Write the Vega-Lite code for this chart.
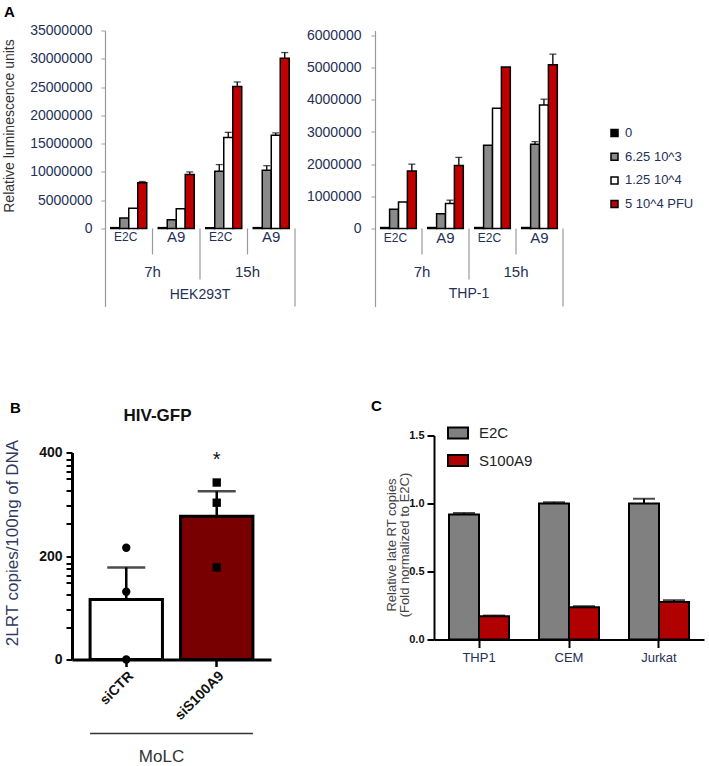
{
  "$schema": "https://vega.github.io/schema/vega-lite/v6.json",
  "padding": {"left": 1, "top": 4.5, "right": 5, "bottom": 0},
  "config": {"view": {"stroke": null}, "font": "Liberation Sans", "axis": {"grid": false}},
  "bounds": "flush",
  "spacing": 405,
  "resolve": {"scale": {"x": "independent", "y": "independent", "fill": "independent", "shape": "independent", "xOffset": "independent"}, "legend": {"fill": "independent", "shape": "independent"}},
  "vconcat": [
    {
      "bounds": "flush",
      "spacing": 32,
      "resolve": {"scale": {"x": "independent", "y": "independent", "fill": "independent", "shape": "independent", "xOffset": "independent"}, "legend": {"fill": "independent", "shape": "independent"}},
      "hconcat": [
        {"width": 1, "height": 1, "data": {"values": []}, "mark": "point", "encoding": {}},
        {
          "bounds": "flush",
          "spacing": 80,
          "resolve": {"scale": {"x": "independent", "y": "independent", "fill": "independent", "shape": "independent", "xOffset": "independent"}, "legend": {"fill": "independent", "shape": "independent"}},
          "hconcat": [
            {
              "width": 190,
              "height": 276,
              "title": {"text": "A", "anchor": "start", "frame": "group", "dx": -101, "offset": -8, "baseline": "alphabetic", "fontSize": 15, "fontWeight": "bold", "color": "#000"},
              "data": {"values": [
                {"grp": "7h E2C", "dose": "0", "v": 150000},
                {"grp": "7h E2C", "dose": "6.25 10^3", "v": 1850000},
                {"grp": "7h E2C", "dose": "1.25 10^4", "v": 3600000},
                {"grp": "7h E2C", "dose": "5 10^4 PFU", "v": 8100000, "hi": 8300000},
                {"grp": "7h A9", "dose": "0", "v": 150000},
                {"grp": "7h A9", "dose": "6.25 10^3", "v": 1550000},
                {"grp": "7h A9", "dose": "1.25 10^4", "v": 3500000},
                {"grp": "7h A9", "dose": "5 10^4 PFU", "v": 9550000, "hi": 10000000},
                {"grp": "15h E2C", "dose": "0", "v": 150000},
                {"grp": "15h E2C", "dose": "6.25 10^3", "v": 10100000, "hi": 11300000},
                {"grp": "15h E2C", "dose": "1.25 10^4", "v": 16100000, "hi": 17000000},
                {"grp": "15h E2C", "dose": "5 10^4 PFU", "v": 25100000, "hi": 25900000},
                {"grp": "15h A9", "dose": "0", "v": 150000},
                {"grp": "15h A9", "dose": "6.25 10^3", "v": 10300000, "hi": 11100000},
                {"grp": "15h A9", "dose": "1.25 10^4", "v": 16500000, "hi": 16900000},
                {"grp": "15h A9", "dose": "5 10^4 PFU", "v": 30100000, "hi": 31100000}
              ]},
              "encoding": {
                "x": {"field": "grp", "type": "nominal", "scale": {"domain": ["7h E2C", "7h A9", "15h E2C", "15h A9"], "paddingInner": 0, "paddingOuter": 0}, "axis": null},
                "y": {"field": "v", "type": "quantitative", "scale": {"domain": [-13787879, 35000000], "nice": false, "zero": false},
                  "axis": {"values": [0, 5000000, 10000000, 15000000, 20000000, 25000000, 30000000, 35000000], "format": "d", "domainColor": "#999", "domainWidth": 1.2, "tickColor": "#999", "tickSize": 4, "labelFontSize": 14, "labelColor": "#243055", "labelPadding": 9, "title": "Relative luminescence units", "titleFontSize": 14, "titleFontWeight": "normal", "titleColor": "#333", "titleX": -96, "titleY": 95, "titleBaseline": "middle"}}
              },
              "layer": [
                {"data": {"values": [{"grp": "7h E2C"}, {"grp": "7h A9"}, {"grp": "15h E2C"}, {"grp": "15h A9"}]},
                 "mark": {"type": "tick", "color": "#999", "thickness": 1.2, "size": 47.5},
                 "encoding": {"y": {"datum": 0}}},
                {"mark": {"type": "bar", "stroke": "#000", "strokeWidth": 1.5},
                 "encoding": {
                   "xOffset": {"field": "dose", "type": "nominal", "scale": {"domain": ["0", "6.25 10^3", "1.25 10^4", "5 10^4 PFU"], "paddingInner": 0, "paddingOuter": 0.64}},
                   "y2": {"datum": 0},
                   "fill": {"field": "dose", "type": "nominal", "scale": {"domain": ["0", "6.25 10^3", "1.25 10^4", "5 10^4 PFU"], "range": ["#000000", "#8a8a8a", "#ffffff", "#c00000"]}, "legend": null}
                 }},
                {"transform": [{"filter": "isValid(datum.hi)"}],
                 "mark": {"type": "rule", "color": "#000", "strokeWidth": 1.3},
                 "encoding": {"xOffset": {"field": "dose", "type": "nominal"}, "y2": {"field": "hi"}}},
                {"transform": [{"filter": "isValid(datum.hi)"}],
                 "mark": {"type": "tick", "color": "#000", "thickness": 1.3, "size": 7},
                 "encoding": {"xOffset": {"field": "dose", "type": "nominal"}, "y": {"field": "hi", "type": "quantitative"}}},
                {"data": {"values": [{"grp": "7h A9", "lv": -4596000}, {"grp": "15h A9", "lv": -4596000}, {"grp": "15h E2C", "lv": -9015000}]},
                 "mark": {"type": "rule", "color": "#999", "strokeWidth": 1.2},
                 "encoding": {"x": {"field": "grp", "type": "nominal", "bandPosition": 0}, "y": {"field": "lv", "type": "quantitative"}, "y2": {"datum": 0}}},
                {"data": {"values": [{"grp": "15h A9", "lv": -13787879}]},
                 "mark": {"type": "rule", "color": "#999", "strokeWidth": 1.2},
                 "encoding": {"x": {"field": "grp", "type": "nominal", "bandPosition": 1}, "y": {"field": "lv", "type": "quantitative"}, "y2": {"datum": 0}}},
                {"data": {"values": [{"grp": "7h E2C", "t": "E2C", "lv": -1590000}, {"grp": "15h E2C", "t": "E2C", "lv": -1590000}]},
                 "mark": {"type": "text", "baseline": "middle", "align": "center", "color": "#243055", "fontSize": 12, "dx": -3},
                 "encoding": {"x": {"field": "grp", "type": "nominal"}, "text": {"field": "t"}, "y": {"field": "lv", "type": "quantitative"}}},
                {"data": {"values": [{"grp": "7h A9", "t": "A9", "lv": -1590000}, {"grp": "15h A9", "t": "A9", "lv": -1590000}]},
                 "mark": {"type": "text", "baseline": "middle", "align": "center", "color": "#243055", "fontSize": 15},
                 "encoding": {"x": {"field": "grp", "type": "nominal"}, "text": {"field": "t"}, "y": {"field": "lv", "type": "quantitative"}}},
                {"data": {"values": [{"grp": "7h A9", "t": "7h", "lv": -7690000}, {"grp": "15h A9", "t": "15h", "lv": -7690000}]},
                 "mark": {"type": "text", "baseline": "middle", "align": "center", "color": "#243055", "fontSize": 15},
                 "encoding": {"x": {"field": "grp", "type": "nominal", "bandPosition": 0}, "text": {"field": "t"}, "y": {"field": "lv", "type": "quantitative"}}},
                {"data": {"values": [{"grp": "15h E2C", "t": "HEK293T", "lv": -11840000}]},
                 "mark": {"type": "text", "baseline": "middle", "align": "center", "color": "#243055", "fontSize": 14},
                 "encoding": {"x": {"field": "grp", "type": "nominal", "bandPosition": 0}, "text": {"field": "t"}, "y": {"field": "lv", "type": "quantitative"}}}
              ]
            },
            {
              "width": 188,
              "height": 276,
              "data": {"values": [
                {"grp": "7h E2C", "dose": "0", "v": 30000},
                {"grp": "7h E2C", "dose": "6.25 10^3", "v": 600000},
                {"grp": "7h E2C", "dose": "1.25 10^4", "v": 820000},
                {"grp": "7h E2C", "dose": "5 10^4 PFU", "v": 1790000, "hi": 2000000},
                {"grp": "7h A9", "dose": "0", "v": 30000},
                {"grp": "7h A9", "dose": "6.25 10^3", "v": 460000},
                {"grp": "7h A9", "dose": "1.25 10^4", "v": 780000, "hi": 880000},
                {"grp": "7h A9", "dose": "5 10^4 PFU", "v": 1960000, "hi": 2210000},
                {"grp": "15h E2C", "dose": "0", "v": 30000},
                {"grp": "15h E2C", "dose": "6.25 10^3", "v": 2590000},
                {"grp": "15h E2C", "dose": "1.25 10^4", "v": 3740000},
                {"grp": "15h E2C", "dose": "5 10^4 PFU", "v": 5020000},
                {"grp": "15h A9", "dose": "0", "v": 30000},
                {"grp": "15h A9", "dose": "6.25 10^3", "v": 2620000, "hi": 2700000},
                {"grp": "15h A9", "dose": "1.25 10^4", "v": 3840000, "hi": 4020000},
                {"grp": "15h A9", "dose": "5 10^4 PFU", "v": 5090000, "hi": 5420000}
              ]},
              "encoding": {
                "x": {"field": "grp", "type": "nominal", "scale": {"domain": ["7h E2C", "7h A9", "15h E2C", "15h A9"], "paddingInner": 0, "paddingOuter": 0}, "axis": null},
                "y": {"field": "v", "type": "quantitative", "scale": {"domain": [-2424870, 6155440], "nice": false, "zero": false},
                  "axis": {"values": [0, 1000000, 2000000, 3000000, 4000000, 5000000, 6000000], "format": "d", "domainColor": "#999", "domainWidth": 1.2, "tickColor": "#999", "tickSize": 4, "labelFontSize": 14, "labelColor": "#243055", "labelPadding": 10, "title": null}}
              },
              "layer": [
                {"data": {"values": [{"grp": "7h E2C"}, {"grp": "7h A9"}, {"grp": "15h E2C"}, {"grp": "15h A9"}]},
                 "mark": {"type": "tick", "color": "#999", "thickness": 1.2, "size": 47},
                 "encoding": {"y": {"datum": 0}}},
                {"mark": {"type": "bar", "stroke": "#000", "strokeWidth": 1.5},
                 "encoding": {
                   "xOffset": {"field": "dose", "type": "nominal", "scale": {"domain": ["0", "6.25 10^3", "1.25 10^4", "5 10^4 PFU"], "paddingInner": 0, "paddingOuter": 0.64}},
                   "y2": {"datum": 0},
                   "fill": {"field": "dose", "type": "nominal", "scale": {"domain": ["0", "6.25 10^3", "1.25 10^4", "5 10^4 PFU"], "range": ["#000000", "#8a8a8a", "#ffffff", "#c00000"]},
                     "legend": {"orient": "none", "legendX": 233, "legendY": 96, "title": null, "symbolType": "square", "symbolSize": 49, "symbolStrokeColor": "#000", "symbolStrokeWidth": 1.5, "labelFontSize": 13, "labelColor": "#243055", "labelOffset": 4, "rowPadding": 9.7, "padding": 0}}
                 }},
                {"transform": [{"filter": "isValid(datum.hi)"}],
                 "mark": {"type": "rule", "color": "#000", "strokeWidth": 1.3},
                 "encoding": {"xOffset": {"field": "dose", "type": "nominal"}, "y2": {"field": "hi"}}},
                {"transform": [{"filter": "isValid(datum.hi)"}],
                 "mark": {"type": "tick", "color": "#000", "thickness": 1.3, "size": 7},
                 "encoding": {"xOffset": {"field": "dose", "type": "nominal"}, "y": {"field": "hi", "type": "quantitative"}}},
                {"data": {"values": [{"grp": "7h A9", "lv": -808290}, {"grp": "15h A9", "lv": -808290}, {"grp": "15h E2C", "lv": -1585490}]},
                 "mark": {"type": "rule", "color": "#999", "strokeWidth": 1.2},
                 "encoding": {"x": {"field": "grp", "type": "nominal", "bandPosition": 0}, "y": {"field": "lv", "type": "quantitative"}, "y2": {"datum": 0}}},
                {"data": {"values": [{"grp": "15h A9", "lv": -2424870}]},
                 "mark": {"type": "rule", "color": "#999", "strokeWidth": 1.2},
                 "encoding": {"x": {"field": "grp", "type": "nominal", "bandPosition": 1}, "y": {"field": "lv", "type": "quantitative"}, "y2": {"datum": 0}}},
                {"data": {"values": [{"grp": "7h E2C", "t": "E2C", "lv": -279800}, {"grp": "15h E2C", "t": "E2C", "lv": -279800}]},
                 "mark": {"type": "text", "baseline": "middle", "align": "center", "color": "#243055", "fontSize": 12, "dx": -3},
                 "encoding": {"x": {"field": "grp", "type": "nominal"}, "text": {"field": "t"}, "y": {"field": "lv", "type": "quantitative"}}},
                {"data": {"values": [{"grp": "7h A9", "t": "A9", "lv": -279800}, {"grp": "15h A9", "t": "A9", "lv": -279800}]},
                 "mark": {"type": "text", "baseline": "middle", "align": "center", "color": "#243055", "fontSize": 15},
                 "encoding": {"x": {"field": "grp", "type": "nominal"}, "text": {"field": "t"}, "y": {"field": "lv", "type": "quantitative"}}},
                {"data": {"values": [{"grp": "7h A9", "t": "7h", "lv": -1352330}, {"grp": "15h A9", "t": "15h", "lv": -1352330}]},
                 "mark": {"type": "text", "baseline": "middle", "align": "center", "color": "#243055", "fontSize": 15},
                 "encoding": {"x": {"field": "grp", "type": "nominal", "bandPosition": 0}, "text": {"field": "t"}, "y": {"field": "lv", "type": "quantitative"}}},
                {"data": {"values": [{"grp": "15h E2C", "t": "THP-1", "lv": -2050000}]},
                 "mark": {"type": "text", "baseline": "middle", "align": "center", "color": "#243055", "fontSize": 14},
                 "encoding": {"x": {"field": "grp", "type": "nominal", "bandPosition": 0}, "text": {"field": "t"}, "y": {"field": "lv", "type": "quantitative"}}}
              ]
            }
          ]
        }
      ]
    },
    {
      "bounds": "flush",
      "spacing": 362,
      "resolve": {"scale": {"x": "independent", "y": "independent", "fill": "independent", "shape": "independent", "xOffset": "independent"}, "legend": {"fill": "independent", "shape": "independent"}},
      "hconcat": [
        {
          "bounds": "flush",
          "spacing": 16,
          "resolve": {"scale": {"x": "independent", "y": "independent", "fill": "independent", "shape": "independent", "xOffset": "independent"}, "legend": {"fill": "independent", "shape": "independent"}},
          "vconcat": [
            {"width": 1, "height": 1, "data": {"values": []}, "mark": "point", "encoding": {},
             "title": {"text": "B", "anchor": "start", "frame": "group", "dx": -62, "offset": 8, "baseline": "alphabetic", "fontSize": 15, "fontWeight": "bold", "color": "#000"}},
            {
              "width": 199,
              "height": 207,
              "title": {"text": "HIV-GFP", "anchor": "middle", "frame": "group", "dx": -14, "offset": 1, "baseline": "alphabetic", "fontSize": 17, "fontWeight": "bold", "color": "#111"},
              "encoding": {
                "x": {"field": "cond", "type": "nominal", "scale": {"domain": ["siCTR", "siS100A9"], "paddingInner": 0.2, "paddingOuter": 0.2},
                  "axis": {"domainWidth": 3, "domainColor": "#000", "tickWidth": 2.5, "tickSize": 7, "tickColor": "#000", "labelAngle": -45, "labelFontSize": 14, "labelFontWeight": "bold", "labelColor": "#111", "labelPadding": 2, "title": "MoLC", "titleFontSize": 17, "titleFontWeight": "normal", "titleColor": "#333", "titleX": 89, "titleY": 97, "titleBaseline": "middle"}},
                "y": {"field": "m", "type": "quantitative", "scale": {"domain": [0, 400], "nice": false},
                  "axis": {"values": [0, 61, 97, 126, 149, 162, 175, 186, 200, 262, 298, 327, 350, 363, 375, 387, 400], "labelExpr": "(datum.value == 0 || datum.value == 200 || datum.value == 400) ? datum.label : ''", "domainWidth": 3, "domainColor": "#000", "tickWidth": 2, "tickSize": 6, "tickColor": "#000", "labelFontSize": 14, "labelFontWeight": "bold", "labelColor": "#111", "labelPadding": 4, "title": "2LRT copies/100ng of DNA", "titleFontSize": 17, "titleFontWeight": "normal", "titleColor": "#2f3b5f", "titleX": -60, "titleY": 90, "titleBaseline": "middle"}}
              },
              "layer": [
                {"data": {"values": [{"cond": "siCTR", "m": 116, "hi": 178}, {"cond": "siS100A9", "m": 277, "hi": 325}]},
                 "layer": [
                   {"mark": {"type": "bar", "stroke": "#000", "strokeWidth": 3},
                    "encoding": {"fill": {"field": "cond", "type": "nominal", "scale": {"domain": ["siCTR", "siS100A9"], "range": ["#ffffff", "#780000"]}, "legend": null}}},
                   {"mark": {"type": "rule", "color": "#000", "strokeWidth": 2.5},
                    "encoding": {"y2": {"field": "hi"}}},
                   {"mark": {"type": "tick", "color": "#000", "thickness": 2.5, "size": 38},
                    "encoding": {"y": {"field": "hi", "type": "quantitative"}}}
                 ]},
                {"data": {"values": [
                   {"cond": "siCTR", "m": 216}, {"cond": "siCTR", "m": 131}, {"cond": "siCTR", "m": 0},
                   {"cond": "siS100A9", "m": 342}, {"cond": "siS100A9", "m": 303}, {"cond": "siS100A9", "m": 178}
                 ]},
                 "mark": {"type": "point", "filled": true, "color": "#000", "opacity": 1, "size": 70},
                 "encoding": {"shape": {"field": "cond", "type": "nominal", "scale": {"domain": ["siCTR", "siS100A9"], "range": ["circle", "square"]}, "legend": null}}},
                {"data": {"values": [{"cond": "siS100A9", "t": "*", "m": 373}]},
                 "mark": {"type": "text", "fontSize": 20, "baseline": "alphabetic", "align": "center", "color": "#111"},
                 "encoding": {"text": {"field": "t"}}},
                {"data": {"values": [{"from": "siCTR", "to": "siS100A9", "m": -143}]},
                 "mark": {"type": "rule", "color": "#333", "strokeWidth": 1.3},
                 "encoding": {"x": {"field": "from", "type": "nominal", "bandPosition": 0}, "x2": {"field": "to", "bandPosition": 1}, "y": {"field": "m", "type": "quantitative"}}}
              ]
            }
          ]
        },
        {
          "width": 270,
          "height": 204,
          "title": {"text": "C", "anchor": "start", "frame": "group", "dx": -63, "offset": -4, "baseline": "alphabetic", "fontSize": 15, "fontWeight": "bold", "color": "#000"},
          "data": {"values": [
            {"cell": "THP1", "series": "E2C", "v": 0.92, "hi": 0.93},
            {"cell": "THP1", "series": "S100A9", "v": 0.171, "hi": 0.176},
            {"cell": "CEM", "series": "E2C", "v": 1.0, "hi": 1.01},
            {"cell": "CEM", "series": "S100A9", "v": 0.237, "hi": 0.245},
            {"cell": "Jurkat", "series": "E2C", "v": 1.0, "hi": 1.035},
            {"cell": "Jurkat", "series": "S100A9", "v": 0.276, "hi": 0.289}
          ]},
          "encoding": {
            "x": {"field": "cell", "type": "nominal", "scale": {"domain": ["THP1", "CEM", "Jurkat"], "paddingInner": 0.3333, "paddingOuter": 0.1667},
              "axis": {"domainWidth": 2, "domainColor": "#000", "tickWidth": 2, "tickSize": 8, "tickColor": "#000", "labelAngle": 0, "labelFontSize": 13, "labelColor": "#243055", "labelPadding": 4, "title": null}},
            "xOffset": {"field": "series", "type": "nominal", "scale": {"domain": ["E2C", "S100A9"], "paddingInner": 0, "paddingOuter": 0}},
            "y": {"field": "v", "type": "quantitative", "scale": {"domain": [0, 1.5], "nice": false},
              "axis": {"values": [0, 0.5, 1, 1.5], "format": ".1f", "domainWidth": 2, "domainColor": "#000", "tickWidth": 2, "tickSize": 7, "tickColor": "#000", "labelFontSize": 11, "labelFontWeight": "bold", "labelColor": "#111", "labelPadding": 3, "title": ["Relative  late RT copies", "(Fold normalized to E2C)"], "titleFontSize": 13, "titleFontWeight": "normal", "titleColor": "#444", "titleLineHeight": 13, "titleX": -43, "titleY": 109, "titleBaseline": "middle"}}
          },
          "layer": [
            {"mark": {"type": "bar", "stroke": "#000", "strokeWidth": 2},
             "encoding": {"fill": {"field": "series", "type": "nominal", "scale": {"domain": ["E2C", "S100A9"], "range": ["#808080", "#b00000"]},
               "legend": {"orient": "none", "legendX": 13, "legendY": -13.5, "title": null, "symbolType": "M-1,-0.55L1,-0.55L1,0.55L-1,0.55Z", "symbolSize": 400, "symbolStrokeColor": "#000", "symbolStrokeWidth": 2, "labelFontSize": 15, "labelColor": "#222", "labelOffset": 10, "rowPadding": 6.5, "padding": 0}}}},
            {"mark": {"type": "rule", "color": "#000", "strokeWidth": 2},
             "encoding": {"y2": {"field": "hi"}}},
            {"mark": {"type": "tick", "color": "#000", "thickness": 2, "size": 22},
             "encoding": {"y": {"field": "hi", "type": "quantitative"}}}
          ]
        }
      ]
    }
  ]
}
